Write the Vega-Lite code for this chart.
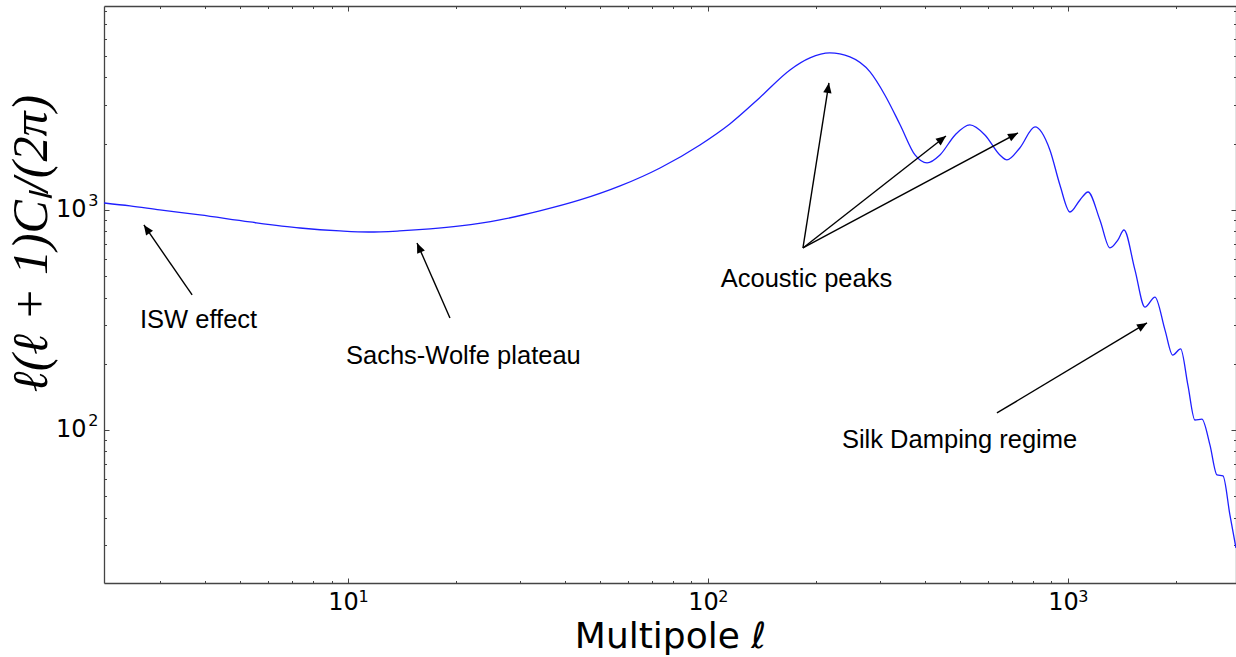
{
  "$schema": "https://vega.github.io/schema/vega-lite/v6.json",
  "width": 1132,
  "height": 577,
  "autosize": {"type": "none"},
  "padding": {"left": 104, "top": 6, "right": 0, "bottom": 74},
  "background": "white",
  "config": {"view": {"stroke": null}, "font": "DejaVu Sans"},
  "datasets": {
    "spectrum": [
      {"ell": 2.1, "D": 1076}, {"ell": 2.48, "D": 1043}, {"ell": 3.0, "D": 1000}, {"ell": 3.88, "D": 949},
      {"ell": 5.34, "D": 882}, {"ell": 7.36, "D": 828}, {"ell": 9.5, "D": 803}, {"ell": 11.4, "D": 794},
      {"ell": 13.9, "D": 803}, {"ell": 16.9, "D": 820}, {"ell": 20.5, "D": 846}, {"ell": 26.4, "D": 901},
      {"ell": 34.1, "D": 990}, {"ell": 44.1, "D": 1110}, {"ell": 57.0, "D": 1286}, {"ell": 73.6, "D": 1552},
      {"ell": 95.0, "D": 1975}, {"ell": 115, "D": 2460}, {"ell": 139, "D": 3229}, {"ell": 169, "D": 4329},
      {"ell": 192, "D": 4909}, {"ell": 218, "D": 5172}, {"ell": 248, "D": 4961}, {"ell": 282, "D": 4240},
      {"ell": 310, "D": 3332}, {"ell": 342, "D": 2434}, {"ell": 376, "D": 1778}, {"ell": 406, "D": 1636},
      {"ell": 441, "D": 1778}, {"ell": 486, "D": 2193}, {"ell": 534, "D": 2434}, {"ell": 588, "D": 2193},
      {"ell": 647, "D": 1778}, {"ell": 677, "D": 1688}, {"ell": 735, "D": 1913}, {"ell": 810, "D": 2384},
      {"ell": 891, "D": 1874}, {"ell": 950, "D": 1299}, {"ell": 1013, "D": 979}, {"ell": 1080, "D": 1110},
      {"ell": 1137, "D": 1207}, {"ell": 1227, "D": 901}, {"ell": 1308, "D": 672}, {"ell": 1377, "D": 731},
      {"ell": 1431, "D": 811}, {"ell": 1535, "D": 534}, {"ell": 1636, "D": 362}, {"ell": 1745, "D": 402},
      {"ell": 1860, "D": 285}, {"ell": 1954, "D": 219}, {"ell": 2056, "D": 233.5}, {"ell": 2154, "D": 160},
      {"ell": 2253, "D": 111}, {"ell": 2356, "D": 112}, {"ell": 2480, "D": 85.5}, {"ell": 2594, "D": 62.5},
      {"ell": 2696, "D": 61.8}, {"ell": 2818, "D": 41.1}, {"ell": 2929, "D": 29.1}
    ],
    "arrows": [
      {"name": "ISW effect", "x0": 3.69, "y0": 411, "x1": 2.71, "y1": 855},
      {"name": "Sachs-Wolfe plateau", "x0": 19.2, "y0": 323, "x1": 15.55, "y1": 708},
      {"name": "Acoustic peaks", "x0": 183.6, "y0": 672, "x1": 216.8, "y1": 3778},
      {"name": "Acoustic peaks", "x0": 183.6, "y0": 672, "x1": 458.3, "y1": 2170},
      {"name": "Acoustic peaks", "x0": 183.6, "y0": 672, "x1": 726.4, "y1": 2239},
      {"name": "Silk Damping regime", "x0": 635, "y0": 119.5, "x1": 1658, "y1": 306.5}
    ],
    "labels": [
      {"text": "ISW effect", "ell": 2.644, "D": 290.9},
      {"text": "Sachs-Wolfe plateau", "ell": 9.87, "D": 198.9},
      {"text": "Acoustic peaks", "ell": 108.5, "D": 445},
      {"text": "Silk Damping regime", "ell": 235.6, "D": 82.8}
    ]
  },
  "layer": [
    {
      "data": {"name": "spectrum"},
      "mark": {"type": "line", "color": "#1f1fff", "strokeWidth": 1.3, "interpolate": "monotone", "clip": true},
      "encoding": {
        "x": {
          "field": "ell", "type": "quantitative",
          "scale": {"type": "log", "domain": [2.1, 2930], "nice": false},
          "axis": {
            "orient": "bottom",
            "values": [3, 4, 5, 6, 7, 8, 9, 10, 20, 30, 40, 50, 60, 70, 80, 90, 100, 200, 300, 400, 500, 600, 700, 800, 900, 1000, 2000],
            "labelExpr": "datum.value == 10 || datum.value == 100 || datum.value == 1000 ? '10' : ''",
            "tickSize": {"condition": {"test": "datum.value == 10 || datum.value == 100 || datum.value == 1000", "value": -5}, "value": -2.5},
            "labelPadding": 12, "labelOffset": -5,
            "labelFont": "DejaVu Sans", "labelFontSize": 24, "labelColor": "black",
            "labelFlush": false, "labelOverlap": false, "labelBound": false,
            "tickColor": "#444", "tickWidth": 1, "domainColor": "#444", "domainWidth": 1.3, "grid": false,
            "title": "Multipole ℓ", "titleFont": "DejaVu Sans", "titleFontSize": 36, "titleFontWeight": "normal",
            "titleColor": "black", "titleBaseline": "alphabetic", "titleY": 64
          }
        },
        "y": {
          "field": "D", "type": "quantitative",
          "scale": {"type": "log", "domain": [20.16, 8453], "nice": false},
          "axis": {
            "orient": "left",
            "values": [30, 40, 50, 60, 70, 80, 90, 100, 200, 300, 400, 500, 600, 700, 800, 900, 1000, 2000, 3000, 4000, 5000, 6000, 7000, 8000],
            "labelExpr": "datum.value == 100 || datum.value == 1000 ? '10' : ''",
            "tickSize": {"condition": {"test": "datum.value == 100 || datum.value == 1000", "value": -5}, "value": -2.5},
            "labelPadding": 23,
            "labelFont": "DejaVu Sans", "labelFontSize": 24, "labelColor": "black",
            "labelFlush": false, "labelOverlap": false, "labelBound": false,
            "tickColor": "#444", "tickWidth": 1, "domainColor": "#444", "domainWidth": 1.3, "grid": false,
            "title": "ℓ(ℓ + 1)Cₗ/(2π)", "titleFont": "Liberation Serif", "titleFontStyle": "italic",
            "titleFontSize": 50, "titleFontWeight": "normal", "titleColor": "black",
            "titleAngle": -90, "titleAlign": "center", "titleBaseline": "alphabetic", "titleX": -58, "titleY": 237
          }
        }
      }
    },
    {
      "data": {"name": "arrows"},
      "mark": {"type": "rule", "color": "black", "strokeWidth": 1.4},
      "encoding": {
        "x": {
          "field": "x0", "type": "quantitative",
          "axis": {
            "orient": "top",
            "values": [3, 4, 5, 6, 7, 8, 9, 10, 20, 30, 40, 50, 60, 70, 80, 90, 100, 200, 300, 400, 500, 600, 700, 800, 900, 1000, 2000],
            "labels": false, "title": null, "grid": false,
            "tickSize": {"condition": {"test": "datum.value == 10 || datum.value == 100 || datum.value == 1000", "value": -5}, "value": -2.5},
            "tickColor": "#444", "tickWidth": 1, "domainColor": "#444", "domainWidth": 1.3
          }
        },
        "x2": {"field": "x1"},
        "y": {
          "field": "y0", "type": "quantitative",
          "axis": {
            "orient": "right",
            "values": [30, 40, 50, 60, 70, 80, 90, 100, 200, 300, 400, 500, 600, 700, 800, 900, 1000, 2000, 3000, 4000, 5000, 6000, 7000, 8000],
            "labels": false, "title": null, "grid": false,
            "tickSize": {"condition": {"test": "datum.value == 100 || datum.value == 1000", "value": -5}, "value": -2.5},
            "tickColor": "#444", "tickWidth": 1, "domainColor": "#444", "domainWidth": 1.3
          }
        },
        "y2": {"field": "y1"}
      }
    },
    {
      "data": {"name": "arrows"},
      "mark": {
        "type": "point", "shape": "M0,0L-0.42,1L0.42,1Z", "filled": true, "color": "black",
        "opacity": 1, "size": 400,
        "angle": {"expr": "atan2(scale('x', datum.x1) - scale('x', datum.x0), scale('y', datum.y0) - scale('y', datum.y1)) * 180 / PI"}
      },
      "encoding": {
        "x": {
          "field": "x1", "type": "quantitative",
          "axis": {
            "orient": "bottom", "values": [10, 100, 1000],
            "labelExpr": "datum.value == 10 ? '1' : datum.value == 100 ? '2' : '3'",
            "ticks": false, "domain": false, "grid": false, "title": null,
            "labelPadding": 5, "labelOffset": 15,
            "labelFont": "DejaVu Sans", "labelFontSize": 16, "labelColor": "black",
            "labelFlush": false, "labelOverlap": false, "labelBound": false
          }
        },
        "y": {
          "field": "y1", "type": "quantitative",
          "axis": {
            "orient": "left", "values": [100, 1000],
            "labelExpr": "datum.value == 100 ? '2' : '3'",
            "ticks": false, "domain": false, "grid": false, "title": null,
            "labelPadding": 6, "labelOffset": -9,
            "labelFont": "DejaVu Sans", "labelFontSize": 16, "labelColor": "black",
            "labelFlush": false, "labelOverlap": false, "labelBound": false
          }
        }
      }
    },
    {
      "data": {"name": "labels"},
      "mark": {"type": "text", "align": "left", "baseline": "alphabetic", "font": "Liberation Sans", "fontSize": 25.5, "color": "black"},
      "encoding": {
        "x": {"field": "ell", "type": "quantitative", "axis": null},
        "y": {"field": "D", "type": "quantitative", "axis": null},
        "text": {"field": "text"}
      }
    }
  ],
  "resolve": {"axis": {"x": "independent", "y": "independent"}}
}
